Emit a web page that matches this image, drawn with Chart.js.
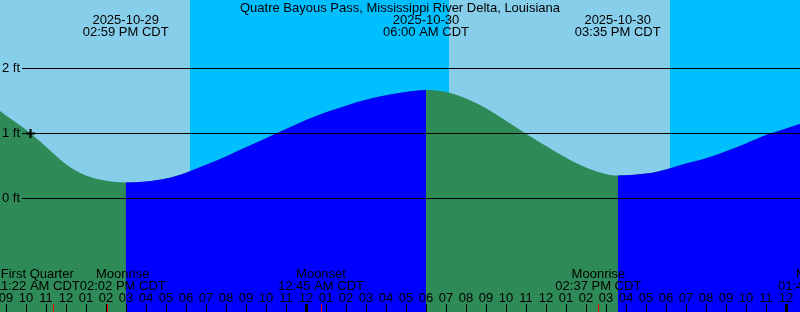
<!DOCTYPE html>
<html>
<head>
<meta charset="utf-8">
<script src="https://cdn.jsdelivr.net/npm/chart.js@4.4.0/dist/chart.umd.min.js"></script>
<style>
  body { margin: 0; background: #fff; }
  canvas { display: block; }
</style>
</head>
<body>
<canvas id="tide-chart" width="800" height="312"></canvas>
<script>
// Hours counted from 2025-10-29 00:00 CDT
let tideHours = [8.7, 9, 10, 11, 12, 13, 14, 14.983, 16, 17, 18, 19, 20, 21, 22, 23, 24, 25, 26, 27, 28, 29, 30,
  31, 32, 33, 34, 35, 36, 37, 38, 39, 39.583, 41, 42, 43, 44, 45, 46, 47, 48, 48.7];
let tideFeet = [1.34, 1.27, 1.05, 0.79, 0.52, 0.345, 0.265, 0.24, 0.255, 0.30, 0.39, 0.51, 0.64, 0.78, 0.92, 1.06, 1.20, 1.32, 1.42, 1.51, 1.58, 1.63, 1.66,
  1.63, 1.53, 1.38, 1.19, 0.99, 0.80, 0.62, 0.47, 0.37, 0.345, 0.375, 0.44, 0.53, 0.61, 0.72, 0.84, 0.97, 1.07, 1.14];

// high / low tide labels along the top
let extremeHours = [14.983, 30, 39.583];
let extremeDates = ['2025-10-29', '2025-10-30', '2025-10-30'];
let extremeTimes = ['02:59 PM CDT', '06:00 AM CDT', '03:35 PM CDT'];

// sunset / sunrise boundaries (night = between sunset and sunrise)
let sunsetHours = [18.2, 42.2];
let sunriseHours = [31.15, 55.15];

// moon events along the bottom
let moonHours = [11.367, 14.033, 24.75, 38.617, 49.75];
let moonNames = ['First Quarter', 'Moonrise', 'Moonset', 'Moonrise', 'Moonset'];
let moonTimes = ['11:22 AM CDT', '02:02 PM CDT', '12:45 AM CDT', '02:37 PM CDT', '01:45 AM CDT'];

let levelTicks = [0, 1, 2];
let levelLabels = ['0 ft', '1 ft', '2 ft'];

let nowHour = 10.2;
let nowFeet = 1.0;

let startHour = 8.7;
let endHour = 48.7;

const FONT = '13px "Liberation Sans", Arial, sans-serif';
const DAY = '#87CEEB';
const NIGHT = '#00BFFF';
const FALLING = '#2E8B57';
const RISING = '#0000FF';

let tidePoints = tideHours.map((h, i) => ({ x: h, y: tideFeet[i] }));

// sky background: day and night bands
let skyPlugin = {
  id: 'sky',
  beforeDatasetsDraw(chart) {
    let ctx = chart.ctx;
    let x = chart.scales.x;
    ctx.save();
    ctx.fillStyle = DAY;
    ctx.fillRect(0, 0, chart.width, chart.height);
    ctx.fillStyle = NIGHT;
    sunsetHours.forEach((s, i) => {
      let x0 = Math.round(x.getPixelForValue(s));
      let x1 = Math.round(x.getPixelForValue(sunriseHours[i]));
      ctx.fillRect(x0, 0, x1 - x0, chart.height);
    });
    ctx.restore();
  }
};

// level lines, hour ticks and all the labels
let labelsPlugin = {
  id: 'labels',
  afterDatasetsDraw(chart) {
    let ctx = chart.ctx;
    let x = chart.scales.x;
    let y = chart.scales.y;
    ctx.save();
    ctx.font = FONT;
    ctx.fillStyle = '#000';
    ctx.strokeStyle = '#000';
    ctx.lineWidth = 1;

    // level lines
    levelTicks.forEach((v, i) => {
      let py = Math.round(y.getPixelForValue(v)) + 0.5;
      ctx.beginPath();
      ctx.moveTo(22, py);
      ctx.lineTo(chart.width, py);
      ctx.stroke();
      ctx.textAlign = 'left';
      ctx.textBaseline = 'middle';
      ctx.fillText(levelLabels[i], 2, py);
    });

    // current time marker
    let nx = Math.round(x.getPixelForValue(nowHour)) + 0.5;
    let ny = Math.round(y.getPixelForValue(nowFeet)) + 0.5;
    ctx.lineWidth = 2;
    ctx.beginPath();
    ctx.moveTo(nx - 4.5, ny);
    ctx.lineTo(nx + 4.5, ny);
    ctx.moveTo(nx, ny - 4.5);
    ctx.lineTo(nx, ny + 4.5);
    ctx.stroke();

    // title
    ctx.textAlign = 'center';
    ctx.textBaseline = 'middle';
    ctx.fillText('Quatre Bayous Pass, Mississippi River Delta, Louisiana', chart.width / 2, 8);

    // tide extremes
    extremeHours.forEach((h, i) => {
      let px = x.getPixelForValue(h);
      ctx.fillText(extremeDates[i], px, 20);
      ctx.fillText(extremeTimes[i], px, 32);
    });

    // hour ticks
    for (let h = Math.ceil(startHour); h <= endHour; h++) {
      let px = Math.round(x.getPixelForValue(h));
      let label = String((h % 12) || 12).padStart(2, '0');
      ctx.fillText(label, px, 298);
      if (h % 24 === 0) {
        ctx.fillRect(px - 1, 304, 3, 8);
      } else {
        ctx.fillRect(px, 304, 1, 8);
      }
    }

    // moon event ticks
    ctx.fillStyle = '#f00';
    moonHours.forEach(h => {
      let px = Math.round(x.getPixelForValue(h));
      ctx.fillRect(px, 304, 1, 8);
    });

    // moon event labels, pushed apart where they overlap
    ctx.fillStyle = '#000';
    let centers = moonHours.map(h => x.getPixelForValue(h));
    let widths = moonNames.map((n, i) => Math.max(ctx.measureText(n).width, ctx.measureText(moonTimes[i]).width));
    for (let i = 0; i < centers.length - 1; i++) {
      let overlap = (centers[i] + widths[i] / 2) - (centers[i + 1] - widths[i + 1] / 2);
      if (overlap > 0) {
        centers[i] -= overlap / 2;
        centers[i + 1] += overlap / 2;
      }
    }
    centers.forEach((cx, i) => {
      ctx.fillText(moonNames[i], cx, 274);
      ctx.fillText(moonTimes[i], cx, 286);
    });

    ctx.restore();
  }
};

let ctx = document.getElementById('tide-chart').getContext('2d');
let chart = new Chart(ctx, {
  type: 'line',
  data: {
    datasets: [{
      // rising water painted blue on top of the green base
      data: tidePoints,
      borderWidth: 0,
      pointRadius: 0,
      cubicInterpolationMode: 'monotone',
      fill: 'start',
      backgroundColor: RISING,
      segment: {
        backgroundColor: c => c.p1.parsed.y < c.p0.parsed.y ? 'rgba(0,0,0,0)' : RISING
      }
    }, {
      // whole water body, falling colour
      data: tidePoints,
      borderWidth: 0,
      pointRadius: 0,
      cubicInterpolationMode: 'monotone',
      fill: 'start',
      backgroundColor: FALLING
    }]
  },
  options: {
    responsive: false,
    animation: false,
    layout: { padding: 0, autoPadding: false },
    plugins: { legend: { display: false }, tooltip: { enabled: false } },
    scales: {
      x: { type: 'linear', min: startHour, max: endHour, display: false },
      y: { min: -1.754, max: 3.046, display: false }
    }
  },
  plugins: [skyPlugin, labelsPlugin]
});
</script>
</body>
</html>
